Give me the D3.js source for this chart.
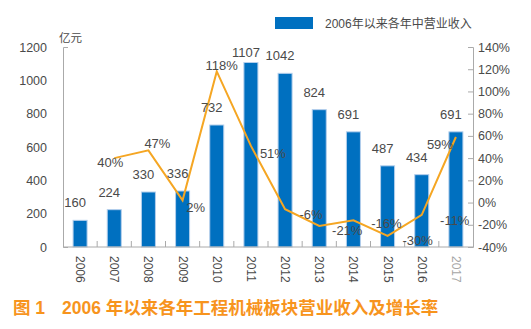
<!DOCTYPE html>
<html>
<head>
<meta charset="utf-8">
<script src="https://cdn.jsdelivr.net/npm/d3@7"></script>
<style>
  body { margin: 0; background: #fff; }
  svg text { font-family: "Liberation Sans", Arial, "Noto Sans CJK SC", sans-serif; }
</style>
</head>
<body>
<div class="chart"></div>
<script>
// revenue (亿元) and year-on-year growth (%)
const years = ['2006','2007','2008','2009','2010','2011','2012','2013','2014','2015','2016','2017'];
const revenue = [160, 224, 330, 336, 732, 1107, 1042, 824, 691, 487, 434, 691];
const growthYears = ['2007','2008','2009','2010','2011','2012','2013','2014','2015','2016','2017'];
const growth = [40, 47, 2, 118, 51, -6, -21, -16, -30, -11, 59];
const leftTicks = [0, 200, 400, 600, 800, 1000, 1200];
const rightTicks = [-40, -20, 0, 20, 40, 60, 80, 100, 120, 140];

const width = 531;
const height = 329;
const textColor = '#4a4a4a';
const axisColor = '#aaaaaa';

const svg = d3.select('.chart')
	.append('svg')
	.attr('width', width)
	.attr('height', height);

const x = d3.scaleBand()
	.domain(years)
	.range([63, 473])
	.paddingInner(0.59)
	.paddingOuter(0.295);

const y = d3.scaleLinear().domain([0, 1200]).range([247, 47]);
const y2 = d3.scaleLinear().domain([-40, 140]).range([247, 47]);

const cx = d => x(d) + x.bandwidth() / 2;

// bars
svg.selectAll('rect.bar')
	.data(revenue)
	.enter()
	.append('rect')
	.attr('class', 'bar')
	.attr('x', (d, i) => x(years[i]))
	.attr('y', d => y(d))
	.attr('width', x.bandwidth())
	.attr('height', d => y(0) - y(d))
	.attr('fill', '#0070c0')
	.attr('stroke', '#b4cfec')
	.attr('stroke-width', 1);

// left axis
const gl = svg.append('g')
	.attr('transform', 'translate(63,0)')
	.call(d3.axisLeft(y).tickValues(leftTicks).tickFormat(d => d).tickSizeInner(0).tickSizeOuter(-5).tickPadding(16));
gl.select('.domain').attr('stroke', axisColor);
gl.selectAll('text').attr('font-size', '12.5px').attr('fill', textColor);

// right axis
const gr = svg.append('g')
	.attr('transform', 'translate(473,0)')
	.call(d3.axisRight(y2).tickValues(rightTicks).tickFormat(d => d + '%').tickSizeInner(-5).tickSizeOuter(-5).tickPadding(5));
gr.select('.domain').attr('stroke', axisColor);
gr.selectAll('line').attr('stroke', axisColor);
gr.selectAll('text').attr('font-size', '12.5px').attr('fill', textColor);

// bottom axis with separators between years
svg.append('line')
	.attr('x1', 63).attr('x2', 473)
	.attr('y1', 247).attr('y2', 247)
	.attr('stroke', axisColor);

svg.selectAll('line.sep')
	.data(years.slice(1))
	.enter()
	.append('line')
	.attr('class', 'sep')
	.attr('x1', d => x(d) - x.step() * x.paddingInner() / 2)
	.attr('x2', d => x(d) - x.step() * x.paddingInner() / 2)
	.attr('y1', 247)
	.attr('y2', 241)
	.attr('stroke', axisColor);

svg.selectAll('text.year')
	.data(years)
	.enter()
	.append('text')
	.attr('class', 'year')
	.attr('transform', d => 'translate(' + (cx(d) - 4) + ',256) rotate(90)')
	.text(d => d)
	.attr('font-size', '12px')
	.attr('fill', (d, i) => i == years.length - 1 ? '#a6a6a6' : textColor);

// growth line
const line = d3.line()
	.x((d, i) => cx(growthYears[i]))
	.y(d => y2(d));

svg.append('path')
	.datum(growth)
	.attr('d', line)
	.attr('fill', 'none')
	.attr('stroke', '#f5a623')
	.attr('stroke-width', 2);

// bar value labels
svg.selectAll('text.value')
	.data(revenue)
	.enter()
	.append('text')
	.attr('class', 'value')
	.attr('x', (d, i) => cx(years[i]) - 5)
	.attr('y', d => Math.max(y(d) - 13, 57))
	.attr('text-anchor', 'middle')
	.attr('font-size', '13px')
	.attr('fill', textColor)
	.text(d => d);

// growth labels, nudged off the line
const shift = [[-4, 9], [9, -2], [13, 12], [5, -1], [22, 12], [26, 10], [28, 9], [33, 8], [30, 9], [33, 10], [-16, 12]];
svg.selectAll('text.growth')
	.data(growth)
	.enter()
	.append('text')
	.attr('class', 'growth')
	.attr('x', (d, i) => cx(growthYears[i]) + shift[i][0])
	.attr('y', (d, i) => y2(d) + shift[i][1])
	.attr('text-anchor', 'middle')
	.attr('font-size', '13px')
	.attr('fill', textColor)
	.text(d => d + '%');

// unit label
svg.append('text')
	.attr('x', 59).attr('y', 42)
	.attr('font-size', '11.5px')
	.attr('fill', textColor)
	.text('亿元');

// legend
svg.append('rect')
	.attr('x', 275).attr('y', 17)
	.attr('width', 38).attr('height', 12)
	.attr('fill', '#0070c0');
svg.append('text')
	.attr('x', 325).attr('y', 28)
	.attr('font-size', '12px')
	.attr('fill', textColor)
	.text('2006年以来各年中营业收入');

// caption: figure number, then title
const caption = svg.append('g')
	.attr('font-size', '17.5px')
	.attr('font-weight', 'bold')
	.attr('fill', '#f7941d');
caption.append('text').attr('x', 13).attr('y', 314).text('图 1');
caption.append('text').attr('x', 62).attr('y', 314).text('2006 年以来各年工程机械板块营业收入及增长率');
</script>
</body>
</html>
